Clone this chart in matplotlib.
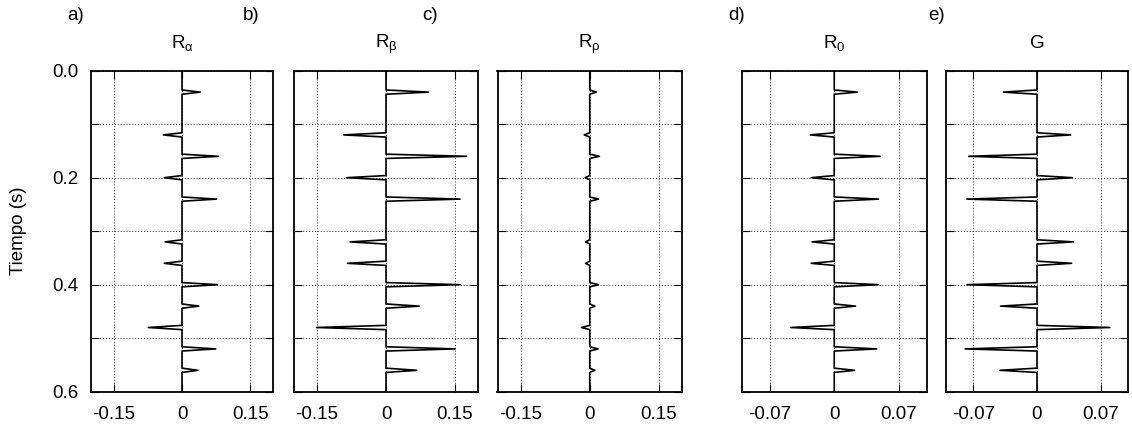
import numpy as np
import matplotlib
matplotlib.use("Agg")
import matplotlib.pyplot as plt

plt.rcParams['font.family'] = ['Liberation Sans', 'DejaVu Sans']
plt.rcParams['mathtext.fontset'] = 'custom'
plt.rcParams['mathtext.rm'] = 'Liberation Sans'
plt.rcParams['mathtext.it'] = 'Liberation Sans'
plt.rcParams['font.size'] = 13.5

# spike times (s) and amplitudes
spike_times = [0.04, 0.12, 0.16, 0.20, 0.24, 0.32, 0.36, 0.40, 0.44, 0.48, 0.52, 0.56]
r_alpha = [0.040, -0.041, 0.080, -0.039, 0.076, -0.037, -0.039, 0.078, 0.037, -0.074, 0.074, 0.035]
r_beta = [0.092, -0.092, 0.175, -0.086, 0.161, -0.078, -0.084, 0.161, 0.072, -0.151, 0.150, 0.067]
r_rho = [0.014, -0.012, 0.021, -0.010, 0.019, -0.009, -0.009, 0.019, 0.011, -0.018, 0.018, 0.011]
r_zero = [0.025, -0.026, 0.050, -0.025, 0.048, -0.024, -0.025, 0.048, 0.023, -0.047, 0.046, 0.022]
g_grad = [-0.037, 0.037, -0.075, 0.039, -0.077, 0.040, 0.038, -0.077, -0.040, 0.080, -0.079, -0.041]

dt = 0.004
t = np.arange(0, 0.6 + dt / 2, dt)

def trace(amps):
    s = np.zeros_like(t)
    for tt, a in zip(spike_times, amps):
        s[int(round(tt / dt))] = a
    return s

panels = [
    (r_alpha, r'$\mathregular{R_\alpha}$', 'a)', 0.2, 0.15, '0.15'),
    (r_beta, r'$\mathregular{R_\beta}$', 'b)', 0.2, 0.15, '0.15'),
    (r_rho, r'$\mathregular{R_\rho}$', 'c)', 0.2, 0.15, '0.15'),
    (r_zero, r'$\mathregular{R_0}$', 'd)', 0.1, 0.07, '0.07'),
    (g_grad, 'G', 'e)', 0.1, 0.07, '0.07'),
]

W, H = 1132, 428
lefts = [91, 294, 497.5, 742, 946]
rights = [273, 478, 682, 926.5, 1128]
top, bottom = 70.7, 391.7
letter_x = [67, 243, 422, 728, 928]

fig = plt.figure(figsize=(W / 100, H / 100), dpi=100)

for i, (amps, title, letter, lim, tk, tklab) in enumerate(panels):
    ax = fig.add_axes([lefts[i] / W, (H - bottom) / H,
                       (rights[i] - lefts[i]) / W, (bottom - top) / H])
    ax.plot(trace(amps), t, color='black', lw=1.2)
    ax.set_xlim(-lim, lim)
    ax.set_ylim(0.6, 0.0)
    ax.set_xticks([-tk, 0, tk])
    ax.set_xticklabels(['-' + tklab, '0', tklab])
    ax.set_yticks(np.arange(0, 0.61, 0.1))
    if i == 0:
        ax.set_yticklabels(['0.0', '', '0.2', '', '0.4', '', '0.6'])
    else:
        ax.set_yticklabels([])
    ax.tick_params(direction='in', length=6, width=0.8, top=True, right=True)
    ax.tick_params(axis='x', pad=10.5)
    ax.tick_params(axis='y', pad=9)
    ax.grid(True, linestyle=(0, (1, 2)), color='#333333', lw=0.7)
    for sp in ax.spines.values():
        sp.set_linewidth(1.3)
    xc = (lefts[i] + rights[i]) / 2
    fig.text(xc / W, 1 - 48 / H, title, ha='center', va='baseline', fontsize=13.5)
    fig.text(letter_x[i] / W, 1 - 15 / H, letter, ha='left', va='center', fontsize=13.5)

fig.text(19 / W, 1 - ((top + bottom) / 2) / H, 'Tiempo (s)', rotation=90,
         ha='center', va='center', fontsize=13.5)

fig.savefig('out.png', dpi=100)
